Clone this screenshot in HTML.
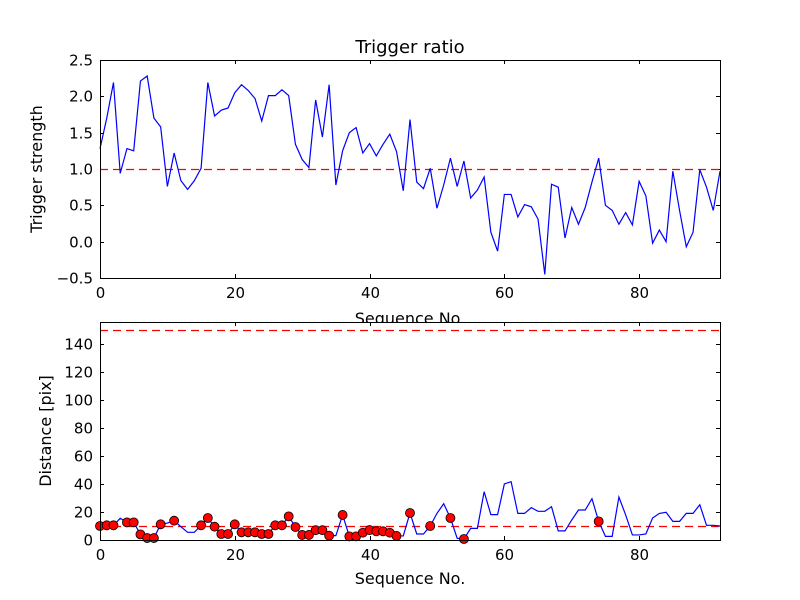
<!DOCTYPE html>
<html><head><meta charset="utf-8"><style>
html,body{margin:0;padding:0;background:#fff;}
svg{display:block;font-family:"DejaVu Sans","Liberation Sans",sans-serif;}
</style></head><body>
<svg id="chart" width="800" height="600" viewBox="0 0 800 600">
<rect x="0" y="0" width="800" height="600" fill="#fff"/>
<g id="g1"></g>
<g id="g2"></g>
</svg>
<script>
const ratio = [1.28,1.7,2.19,0.94,1.28,1.25,2.21,2.28,1.70,1.58,0.76,1.22,0.84,0.72,0.84,1.01,2.19,1.73,1.81,1.84,2.05,2.16,2.08,1.97,1.66,2.01,2.01,2.09,2.01,1.34,1.13,1.02,1.95,1.44,2.16,0.78,1.25,1.50,1.57,1.22,1.35,1.18,1.34,1.48,1.24,0.70,1.68,0.82,0.73,1.01,0.46,0.78,1.15,0.76,1.11,0.60,0.71,0.89,0.13,-0.13,0.65,0.65,0.34,0.51,0.48,0.31,-0.45,0.79,0.75,0.05,0.47,0.24,0.47,0.82,1.15,0.50,0.43,0.24,0.40,0.23,0.83,0.63,-0.02,0.16,0.00,0.97,0.43,-0.07,0.13,0.99,0.75,0.43,0.97];
const distance = [10.0,10.5,10.5,15.5,12.6,12.6,4.0,1.4,1.4,11.2,12.1,13.8,9.5,5.5,5.5,10.5,15.7,9.5,4.3,4.3,11.2,5.5,5.5,5.5,4.3,4.3,10.5,10.5,16.9,9.3,3.6,3.6,7.0,7.0,3.1,3.1,17.9,2.6,2.6,5.2,7.1,6.2,6.2,5.2,2.9,2.9,19.3,4.3,4.3,10.0,19.0,25.9,15.7,1.2,0.7,8.3,8.3,34.5,18.1,18.1,40.0,41.7,19.0,19.0,23.1,20.5,20.5,23.8,6.5,6.5,14.3,21.4,21.4,29.5,13.3,2.6,2.6,30.7,17.9,3.6,3.6,4.3,15.7,19.0,19.8,13.3,13.3,19.0,19.0,25.2,10.5,10.5,10.0];
const xTicks = [0,20,40,60,80];
const ratioTicks = [-0.5,0.0,0.5,1.0,1.5,2.0,2.5];
const ratioTickLabels = ["\u22120.5","0.0","0.5","1.0","1.5","2.0","2.5"];
const distTicks = [0,20,40,60,80,100,120,140];
const ratioThreshold = 1.0;
const distThresholds = [10,150];
const xMax = 92;
const NS="http://www.w3.org/2000/svg";
function mk(parent,tag,attrs){const e=document.createElementNS(NS,tag);for(const k in attrs)e.setAttribute(k,attrs[k]);parent.appendChild(e);return e;}
const L=100,R=720;
const sx=v=>L+(v/xMax)*(R-L);
const snap=v=>Math.round(v)+0.5;
function panel(g,top,bot,ymin,ymax,ticks,labels){
  const sy=v=>bot-(v-ymin)/(ymax-ymin)*(bot-top);
  const bg=mk(g,'rect',{x:L,y:top,width:R-L,height:bot-top,fill:'#fff'});
  
  
  xTicks.forEach(t=>{
    const x=snap(sx(t));
    const a=mk(g,'line',{x1:x,y1:bot,x2:x,y2:bot-4,stroke:'#000'});
    
    
    const b=mk(g,'line',{x1:x,y1:top,x2:x,y2:top+4,stroke:'#000'});
    
    
    const tx=mk(g,'text',{x:x,y:bot+20,'font-size':15,'text-anchor':'middle'});
    tx.textContent=t;
    
    
  });
  ticks.forEach((t,i)=>{
    const y=snap(sy(t));
    const a=mk(g,'line',{x1:L,y1:y,x2:L+4,y2:y,stroke:'#000'});
    
    
    const b=mk(g,'line',{x1:R,y1:y,x2:R-4,y2:y,stroke:'#000'});
    
    
    const tx=mk(g,'text',{x:L-7,y:y+5,'font-size':15,'text-anchor':'end'});
    tx.textContent=labels[i];
    
    
  });
  return sy;
}
// top panel
const g1=document.getElementById('g1');
const sy1=panel(g1,60,278,-0.5,2.5,ratioTicks,ratioTickLabels);
const th1=mk(g1,'line',{x1:L,x2:R,y1:snap(sy1(ratioThreshold)),y2:snap(sy1(ratioThreshold)),stroke:'#ff0000','stroke-width':1.3,'stroke-dasharray':'8,5'});


const p1=mk(g1,'polyline',{points:ratio.map((v,i)=>sx(i)+','+sy1(v)).join(' '),fill:'none',stroke:'#0000ff','stroke-width':1.2});


const f1=mk(g1,'rect',{x:100.5,y:60.5,width:620,height:218,fill:'none',stroke:'#000','stroke-width':1});


const t1=mk(g1,'text',{x:410,y:53,'font-size':18,'text-anchor':'middle'});
t1.textContent='Trigger ratio';


const xl1=mk(g1,'text',{x:410,y:324,'font-size':16,'text-anchor':'middle'});
xl1.textContent='Sequence No.';


const yl1=mk(g1,'text',{x:0,y:0,'font-size':16,'text-anchor':'middle',transform:'translate(42,169) rotate(-90)'});
yl1.textContent='Trigger strength';


// bottom panel
const g2=document.getElementById('g2');
const sy2=panel(g2,322,540,0,155.7,distTicks,distTicks.map(String));
distThresholds.forEach(v=>{
  const l=mk(g2,'line',{x1:L,x2:R,y1:snap(sy2(v)),y2:snap(sy2(v)),stroke:'#ff0000','stroke-width':1.3,'stroke-dasharray':'8,5'});
  
  
});
const p2=mk(g2,'polyline',{points:distance.map((v,i)=>sx(i)+','+sy2(v)).join(' '),fill:'none',stroke:'#0000ff','stroke-width':1.2});


distance.forEach((v,i)=>{
  if(ratio[i]>=ratioThreshold){
    const c=mk(g2,'circle',{cx:sx(i),cy:sy2(v),r:4.5,fill:'#ff0000',stroke:'#000','stroke-width':0.8});
    
    
  }
});
const f2=mk(g2,'rect',{x:100.5,y:322.5,width:620,height:218,fill:'none',stroke:'#000','stroke-width':1});


const xl2=mk(g2,'text',{x:410,y:584,'font-size':16,'text-anchor':'middle'});
xl2.textContent='Sequence No.';


const yl2=mk(g2,'text',{x:0,y:0,'font-size':16,'text-anchor':'middle',transform:'translate(51,431) rotate(-90)'});
yl2.textContent='Distance [pix]';


</script>
</body></html>
